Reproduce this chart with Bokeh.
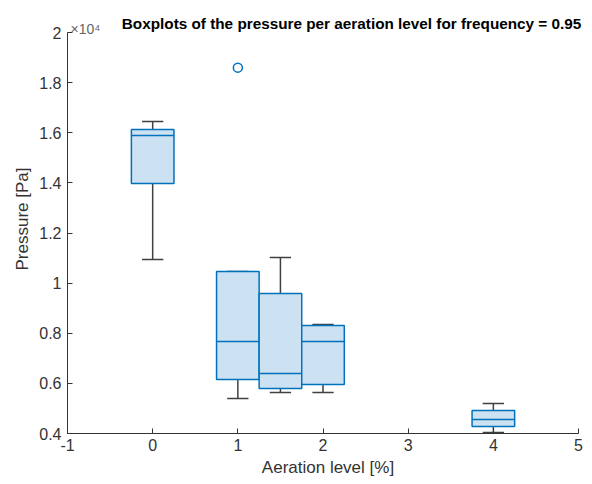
from bokeh.plotting import figure
from bokeh.models import FixedTicker, Label, ColumnDataSource
from bokeh.embed import file_html
from bokeh.resources import INLINE

# Box statistics per aeration level (pressure in units of 1e4 Pa)
levels = [0, 1, 1.5, 2, 4]
lower_whisker = [1.094, 0.540, 0.564, 0.564, 0.404]
q1 = [1.398, 0.615, 0.580, 0.596, 0.428]
median = [1.589, 0.767, 0.639, 0.767, 0.456]
q3 = [1.613, 1.046, 0.959, 0.831, 0.492]
upper_whisker = [1.645, 1.046, 1.102, 0.835, 0.520]
outlier_level = [1]
outlier_value = [1.860]

x_ticks = [-1, 0, 1, 2, 3, 4, 5]
y_ticks = [0.4, 0.6, 0.8, 1.0, 1.2, 1.4, 1.6, 1.8, 2.0]
title_text = "Boxplots of the pressure per aeration level for frequency = 0.95"

BLUE = "#0072BD"
GREY = "#404040"
TXT = "#333333"
FONT = "Liberation Sans"
BOX_W = 0.5
CAP_W = 0.25
X_LO, X_HI = -1, 5
Y_LO, Y_HI = 0.4, 2.0

src = ColumnDataSource(dict(
    x=levels,
    lo=lower_whisker, q1=q1, med=median, q3=q3, hi=upper_whisker,
    xl=[v - BOX_W / 2 for v in levels], xr=[v + BOX_W / 2 for v in levels],
    cl=[v - CAP_W / 2 for v in levels], cr=[v + CAP_W / 2 for v in levels],
))

# the frame reaches a little beyond the axes box so the heading texts fit in it;
# both axis lines are bounded to the data box
p = figure(width=592, height=484, x_range=(X_LO, 5.117), y_range=(Y_LO, 2.112),
           output_backend="svg", toolbar_location=None,
           min_border_left=67, min_border_right=4, min_border_top=4,
           min_border_bottom=51)
p.outline_line_color = None
p.grid.visible = False
p.background_fill_color = "white"
p.border_fill_color = "white"

# whiskers and caps
p.segment(x0="x", y0="q3", x1="x", y1="hi", source=src, line_color=GREY, line_width=1.5)
p.segment(x0="x", y0="q1", x1="x", y1="lo", source=src, line_color=GREY, line_width=1.5)
p.segment(x0="cl", y0="hi", x1="cr", y1="hi", source=src, line_color=GREY, line_width=1.5)
p.segment(x0="cl", y0="lo", x1="cr", y1="lo", source=src, line_color=GREY, line_width=1.5)

# boxes and medians
p.quad(left="xl", right="xr", bottom="q1", top="q3", source=src,
       fill_color="#cce1f1", line_color=BLUE, line_width=1.5)
p.segment(x0="xl", y0="med", x1="xr", y1="med", source=src, line_color=BLUE, line_width=1.5)

# outliers
p.scatter(outlier_level, outlier_value, marker="circle", size=9,
          fill_color=None, line_color=BLUE, line_width=1.5)

for ax in (p.xaxis, p.yaxis):
    ax.major_tick_in = 5
    ax.major_tick_out = 0
    ax.minor_tick_line_color = None
    ax.axis_line_color = TXT
    ax.major_tick_line_color = TXT
    ax.major_label_text_font = FONT
    ax.major_label_text_font_size = "16px"
    ax.major_label_text_color = TXT
    ax.axis_label_text_font = FONT
    ax.axis_label_text_font_size = "17px"
    ax.axis_label_text_font_style = "normal"
    ax.axis_label_text_color = TXT

p.xaxis.bounds = (X_LO, X_HI)
p.yaxis.bounds = (Y_LO, Y_HI)
p.xaxis.ticker = FixedTicker(ticks=x_ticks)
p.yaxis.ticker = FixedTicker(ticks=y_ticks)
p.xaxis.major_label_overrides = {t: str(t) for t in x_ticks}
p.yaxis.major_label_overrides = {t: (f"{t:g}") for t in y_ticks}
p.xaxis.axis_label = "Aeration level [%]"
p.yaxis.axis_label = "Pressure [Pa]"
p.xaxis.major_label_standoff = 5
p.yaxis.major_label_standoff = 6
p.xaxis.axis_label_standoff = 4
p.yaxis.axis_label_standoff = 4

# axis exponent marker and heading above the axes box
p.add_layout(Label(x=X_LO, y=Y_HI, x_offset=3, y_offset=4, text="×10⁴", text_font=FONT,
                   text_font_size="14px", text_color="#666666", text_baseline="alphabetic"))
p.add_layout(Label(x=2.335, y=Y_HI, y_offset=9, text=title_text, text_font=FONT,
                   text_font_size="15.3px", text_font_style="bold", text_color="black",
                   text_align="center", text_baseline="alphabetic"))

open("out.html", "w").write(file_html(p, INLINE))
